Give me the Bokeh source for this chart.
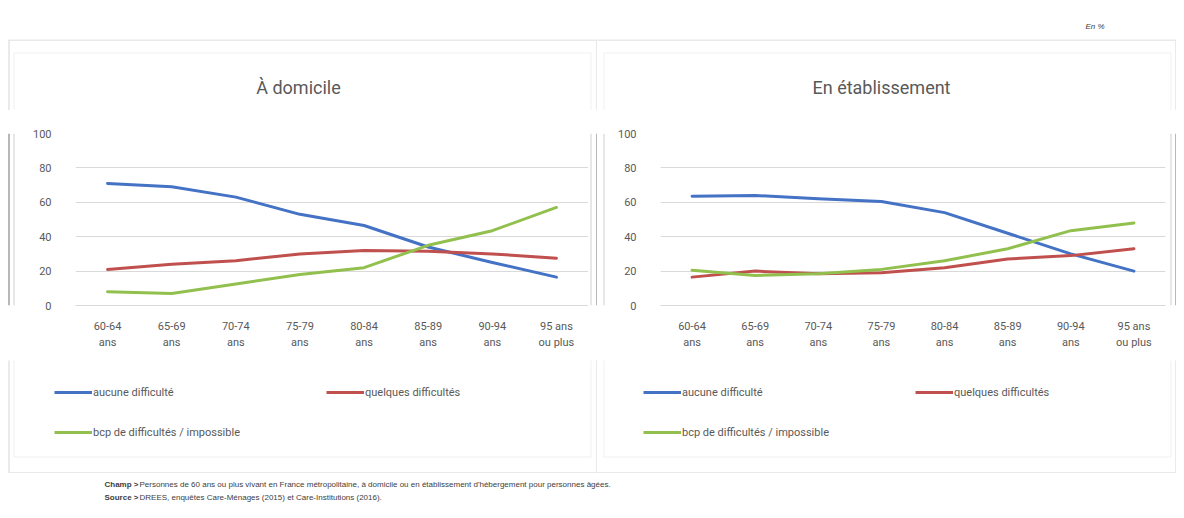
from bokeh.plotting import figure
from bokeh.models import (Range1d, FactorRange, FixedTicker, Legend, LegendItem,
                          BoxAnnotation, Label, Span)
from bokeh.layouts import column, row
from bokeh.embed import file_html
from bokeh.resources import INLINE

# ---------------- data ----------------
categories = ["60-64\nans", "65-69\nans", "70-74\nans", "75-79\nans",
              "80-84\nans", "85-89\nans", "90-94\nans", "95 ans\nou plus"]
series_names = ["aucune difficulté", "quelques difficultés", "bcp de difficultés / impossible"]
panel_titles = ["À domicile", "En établissement"]
y_ticks = [0, 20, 40, 60, 80, 100]

dom_aucune = [71, 69, 63, 53, 46.5, 34, 25, 16.5]
dom_quelques = [21, 24, 26, 30, 32, 31.5, 30, 27.5]
dom_bcp = [8, 7, 12.5, 18, 22, 35, 43.5, 57]

etab_aucune = [63.5, 64, 62, 60.5, 54, 42, 30, 20]
etab_quelques = [16.5, 20, 18.5, 19, 22, 27, 29, 33]
etab_bcp = [20.5, 17.5, 18.5, 21, 26, 33, 43.5, 48]

unit_note = "En %"
note_champ_head = "Champ >"
note_champ = "Personnes de 60 ans ou plus vivant en France métropolitaine, à domicile ou en établissement d'hébergement pour personnes âgées."
note_source_head = "Source >"
note_source = "DREES, enquêtes Care-Ménages (2015) et Care-Institutions (2016)."

# ---------------- styles / layout ----------------
FONT = "Roboto"
TXT = "#595959"
COLORS = ["#4472C4", "#C0504D", "#92C04E"]
OUTER = "#A0A0A0"
INNER = "#CFCFCF"
W = 1176
HEADER_B = 39          # header: y 0..39
CHART_T, CHART_B = 110, 360
PANEL_B = 473
NOTES_B = 510
FRAME_TOP, FRAME_BOTTOM = 133, 305


def deco_fig(x0, x1, y0, y1):
    f = figure(width=x1 - x0, height=y1 - y0, x_range=Range1d(x0, x1),
               y_range=Range1d(y1, y0), output_backend="svg", toolbar_location=None,
               x_axis_location=None, y_axis_location=None, min_border=0, title=None)
    f.outline_line_color = None
    f.grid.visible = False
    return f


def sbox(f, x0, y1, l, r, t, b, color, lw):
    """Rectangle given in page pixels, drawn in screen units of a figure whose
    frame covers the whole figure (x0 = its left edge, y1 = its bottom edge)."""
    f.add_layout(BoxAnnotation(left=l - x0, right=r - x0, top=y1 - t, bottom=y1 - b,
                               left_units="screen", right_units="screen",
                               top_units="screen", bottom_units="screen",
                               fill_color=None, fill_alpha=0,
                               line_color=color, line_width=lw))


def make_panel(title_text, series, x0, x1, lstrip_w, rstrip_w, frame_left, frame_right,
               title_x, legend_x, outer_lr, inner_lr):
    ol, orr = outer_lr
    il, ir = inner_lr
    # --- top decoration: frames + title
    top = deco_fig(x0, x1, HEADER_B, CHART_T)
    sbox(top, x0, CHART_T, ol, orr, 39.5, CHART_T + 20, OUTER, 1.5)
    sbox(top, x0, CHART_T, il, ir, 52.5, CHART_T + 20, INNER, 1)
    top.add_layout(Label(x=title_x, y=87, text=title_text, text_align="center",
                         text_baseline="middle", text_font=FONT, text_font_size="18px",
                         text_color=TXT))

    # --- side strips with vertical frame lines
    def strip(sx0, sx1):
        s = deco_fig(sx0, sx1, CHART_T, CHART_B)
        for loc, col, lw in [(ol, OUTER, 1.5), (orr, OUTER, 1.5), (il, INNER, 1), (ir, INNER, 1)]:
            if sx0 <= loc <= sx1:
                s.add_layout(Span(location=loc, dimension="height",
                                  line_color=col, line_width=lw))
        return s

    lstrip = strip(x0, x0 + lstrip_w)
    rstrip = strip(x1 - rstrip_w, x1)

    # --- chart
    cx0, cx1 = x0 + lstrip_w, x1 - rstrip_w
    p = figure(width=cx1 - cx0, height=CHART_B - CHART_T,
               x_range=FactorRange(factors=categories), y_range=Range1d(0, 100),
               output_backend="svg", toolbar_location=None, title=None,
               min_border_left=frame_left - cx0, min_border_right=cx1 - frame_right,
               min_border_top=FRAME_TOP - CHART_T, min_border_bottom=CHART_B - FRAME_BOTTOM)
    p.outline_line_color = None

    p.yaxis.ticker = FixedTicker(ticks=y_ticks)
    p.yaxis.axis_line_color = None
    p.yaxis.major_tick_line_color = None
    p.yaxis.minor_tick_line_color = None
    p.yaxis.major_label_standoff = 18
    p.yaxis.major_label_text_font = FONT
    p.yaxis.major_label_text_font_size = "11px"
    p.yaxis.major_label_text_color = TXT

    p.xaxis.axis_line_color = "#D9D9D9"
    p.xaxis.major_tick_line_color = None
    p.xaxis.minor_tick_line_color = None
    p.xaxis.major_label_standoff = 8
    p.xaxis.major_label_text_font = FONT
    p.xaxis.major_label_text_font_size = "11px"
    p.xaxis.major_label_text_color = TXT
    p.xaxis.major_label_text_line_height = 1.3

    p.xgrid.grid_line_color = None
    p.ygrid.grid_line_color = "#D9D9D9"

    for vals, c in zip(series, COLORS):
        p.line(categories, vals, line_color=c, line_width=3,
               line_join="round", line_cap="round")

    # --- bottom decoration: legend + frames (categorical x, series kept out of view)
    bot = figure(width=x1 - x0, height=PANEL_B - CHART_B,
                 x_range=FactorRange(factors=categories), y_range=Range1d(1000, 2000),
                 output_backend="svg", toolbar_location=None,
                 x_axis_location=None, y_axis_location=None, min_border=0, title=None)
    bot.outline_line_color = None
    bot.grid.visible = False
    sbox(bot, x0, PANEL_B, ol, orr, CHART_B - 20, PANEL_B - 0.5, OUTER, 1.5)
    sbox(bot, x0, PANEL_B, il, ir, CHART_B - 20, 456.5, INNER, 1)
    items = []
    for name, vals, c in zip(series_names, series, COLORS):
        r = bot.line(categories, vals, line_color=c, line_width=3)
        items.append(LegendItem(label=name, renderers=[r]))
    leg = Legend(items=items, location=(legend_x - x0, PANEL_B - 440),
                 orientation="horizontal", ncols=2,
                 glyph_width=38, glyph_height=16, label_height=16,
                 label_standoff=1, label_width=209, spacing=24,
                 padding=0, margin=0, border_line_color=None,
                 background_fill_alpha=0,
                 label_text_font=FONT, label_text_font_size="11px",
                 label_text_color=TXT)
    bot.add_layout(leg)

    return column(top, row(lstrip, p, rstrip), bot)


left = make_panel(panel_titles[0], [dom_aucune, dom_quelques, dom_bcp],
                  x0=0, x1=597, lstrip_w=20, rstrip_w=9, frame_left=75, frame_right=588,
                  title_x=298, legend_x=54,
                  outer_lr=(8.5, 596.5), inner_lr=(13.5, 590.5))
right = make_panel(panel_titles[1], [etab_aucune, etab_quelques, etab_bcp],
                   x0=597, x1=W, lstrip_w=15, rstrip_w=9, frame_left=660, frame_right=1165,
                   title_x=881, legend_x=643,
                   outer_lr=(590, 1175.5), inner_lr=(603.5, 1170.5))

header = deco_fig(0, W, 0, HEADER_B)
header.add_layout(Label(x=1085, y=26, text=unit_note, text_font="Liberation Sans",
                        text_font_style="italic", text_font_size="8px",
                        text_color="#404040", text_baseline="middle"))

notes = deco_fig(0, W, PANEL_B, NOTES_B)
for y, head, body in [(484, note_champ_head, note_champ), (497, note_source_head, note_source)]:
    notes.add_layout(Label(x=104, y=y, text=head, text_font="Liberation Sans",
                           text_font_style="bold", text_font_size="8px",
                           text_color="#404040", text_baseline="middle"))
    notes.add_layout(Label(x=139, y=y, text=body, text_font="Liberation Sans",
                           text_font_size="8px",
                           text_color="#404040", text_baseline="middle"))

layout = column(header, row(left, right), notes)
open("out.html", "w").write(file_html(layout, INLINE))
